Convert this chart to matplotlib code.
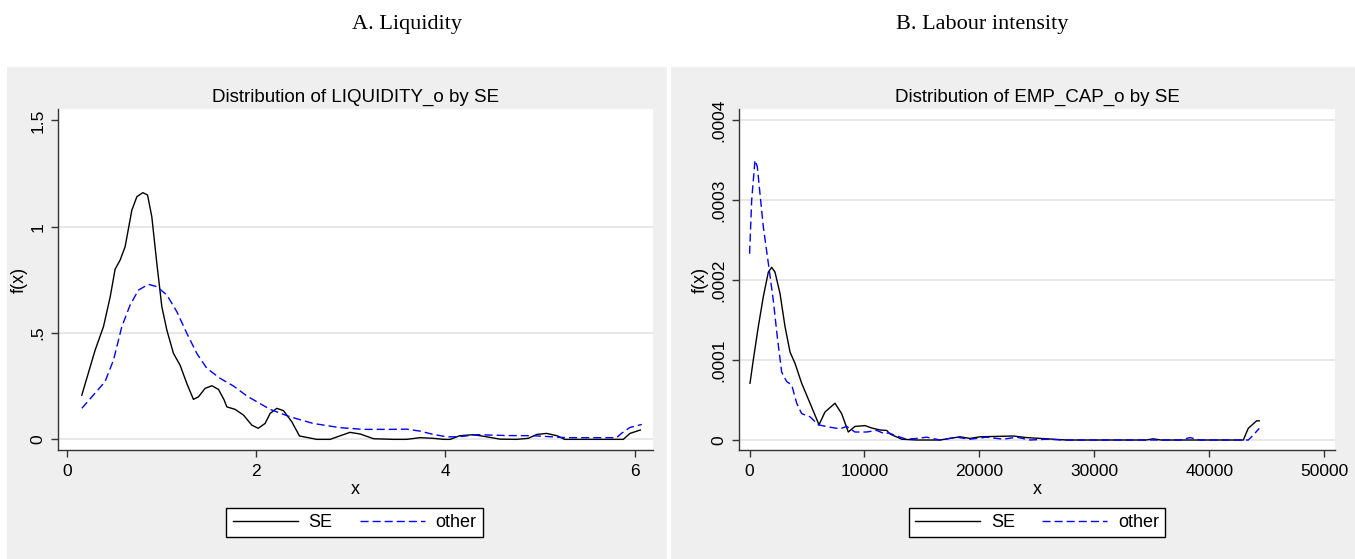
import matplotlib
matplotlib.use("Agg")
import matplotlib.pyplot as plt
from matplotlib.patches import Rectangle
from matplotlib.lines import Line2D

# ---- data -------------------------------------------------------------
panel_titles = ["A. Liquidity", "B. Labour intensity"]
plot_titles = ["Distribution of LIQUIDITY_o by SE", "Distribution of EMP_CAP_o by SE"]
series_names = ["SE", "other"]

# Panel A: kernel density of liquidity
liq_se_x = [0.155, 0.296, 0.384, 0.455, 0.507, 0.56, 0.613, 0.684, 0.737, 0.80, 0.85,
            0.895, 0.948, 1.001, 1.054, 1.124, 1.194, 1.265, 1.335, 1.388, 1.459, 1.53,
            1.60, 1.66, 1.688, 1.776, 1.865, 1.952, 2.02, 2.093, 2.146, 2.217, 2.287,
            2.375, 2.456, 2.64, 2.78, 2.99, 3.1, 3.24, 3.45, 3.59, 3.73, 3.87, 3.98,
            4.05, 4.15, 4.295, 4.437, 4.577, 4.75, 4.876, 4.965, 5.07, 5.18, 5.26,
            5.88, 5.95, 6.06]
liq_se_y = [0.208, 0.42, 0.53, 0.67, 0.80, 0.843, 0.906, 1.078, 1.141, 1.16, 1.149,
            1.047, 0.828, 0.624, 0.514, 0.404, 0.349, 0.263, 0.188, 0.20, 0.24, 0.252,
            0.235, 0.185, 0.153, 0.141, 0.114, 0.067, 0.052, 0.075, 0.122, 0.146, 0.135,
            0.083, 0.016, 0.0, 0.0, 0.033, 0.025, 0.003, 0.0, 0.0, 0.008, 0.005, 0.0,
            0.0, 0.017, 0.022, 0.012, 0.001, 0.0, 0.005, 0.023, 0.028, 0.017, 0.0,
            0.0, 0.028, 0.044]
liq_other_x = [0.155, 0.40, 0.49, 0.578, 0.666, 0.754, 0.86, 0.948, 1.054, 1.16, 1.265,
               1.371, 1.477, 1.617, 1.758, 1.90, 2.005, 2.146, 2.357, 2.60, 2.886, 3.13,
               3.41, 3.59, 3.73, 3.855, 4.01, 4.14, 4.33, 4.65, 4.93, 5.28, 5.81, 5.86,
               5.95, 6.075]
liq_other_y = [0.146, 0.271, 0.373, 0.53, 0.632, 0.702, 0.729, 0.718, 0.679, 0.60, 0.499,
               0.404, 0.334, 0.287, 0.251, 0.204, 0.177, 0.141, 0.106, 0.075, 0.055, 0.047,
               0.047, 0.048, 0.039, 0.025, 0.012, 0.012, 0.022, 0.018, 0.017, 0.008, 0.008,
               0.028, 0.056, 0.07]

# Panel B: kernel density of employment per unit of capital (density in units of 1e-4)
emp_se_x = [35, 320, 760, 1190, 1630, 1920, 2210, 2650, 3080, 3520, 3950, 4530, 5260,
            6040, 6560, 7430, 8010, 8590, 9170, 10040, 10630, 11350, 11930, 12220, 13240,
            14540, 16570, 18310, 19180, 20050, 22950, 24120, 25860, 27600, 34500, 35140,
            35800, 42970, 43400, 44130, 44360]
emp_se_y = [0.71, 1.0, 1.42, 1.79, 2.1, 2.16, 2.1, 1.83, 1.42, 1.10, 0.96, 0.71, 0.46,
            0.19, 0.35, 0.46, 0.33, 0.10, 0.17, 0.18, 0.15, 0.125, 0.12, 0.075, 0.01,
            0.0, 0.0, 0.04, 0.02, 0.04, 0.05, 0.03, 0.015, 0.0, 0.0, 0.015,
            0.0, 0.0, 0.146, 0.24, 0.24]
emp_other_x = [0, 180, 470, 670, 905, 1190, 1630, 2060, 2410, 2790, 3230, 3660, 4100,
               4530, 5260, 5980, 7000, 7870, 8450, 9170, 10190, 11060, 11790, 12080,
               12800, 13670, 14540, 15410, 16570, 18020, 19180, 20630, 22080, 23240,
               24410, 25860, 27310, 37500, 38330, 39200, 43400, 43830, 44360]
emp_other_y = [2.33, 3.0, 3.5, 3.42, 3.08, 2.67, 2.21, 1.75, 1.29, 0.85, 0.73, 0.69, 0.46,
               0.33, 0.29, 0.19, 0.16, 0.14, 0.17, 0.10, 0.10, 0.12, 0.075, 0.09,
               0.05, 0.01, 0.02, 0.035, 0.0, 0.035, 0.01, 0.035, 0.01, 0.035,
               0.0, 0.01, 0.0, 0.0, 0.03, 0.0, 0.0, 0.06, 0.146]

liq_xticks = [0, 2, 4, 6]
liq_yticks = [0, 0.5, 1, 1.5]
liq_yticklabels = ["0", ".5", "1", "1.5"]
emp_xticks = [0, 10000, 20000, 30000, 40000, 50000]
emp_yticks = [0, 0.0001, 0.0002, 0.0003, 0.0004]
emp_yticklabels = ["0", ".0001", ".0002", ".0003", ".0004"]

# ---- styling ----------------------------------------------------------
plt.rcParams["font.family"] = ["Liberation Sans", "DejaVu Sans"]
plt.rcParams["lines.scale_dashes"] = False

W, H = 1355, 559
fig = plt.figure(figsize=(W / 100, H / 100), dpi=100, facecolor="white")

PANEL_GRAY = "#efefef"
AXIS_COL = "#333333"
GRID_COL = "#e6e6e6"
DASH = (0, (5.8, 2.9))


def fx(px):
    return px / W


def fy(py):
    return 1 - py / H


# grey graph regions
for x0, x1 in [(7, 667), (671, 1355)]:
    fig.add_artist(Rectangle((fx(x0), 0), fx(x1 - x0), fy(67), transform=fig.transFigure,
                             facecolor=PANEL_GRAY, edgecolor="none", zorder=0))

# panel headings
fig.text(fx(407), fy(25), panel_titles[0], family="Liberation Serif", fontsize=16,
         ha="center", va="center")
fig.text(fx(982), fy(25), panel_titles[1], family="Liberation Serif", fontsize=16,
         ha="center", va="center")


def make_axes(left, right, top, bottom):
    ax = fig.add_axes([fx(left), fy(bottom), fx(right - left), (bottom - top) / H])
    ax.set_facecolor("white")
    for s in ("top", "right"):
        ax.spines[s].set_visible(False)
    for s in ("left", "bottom"):
        ax.spines[s].set_color(AXIS_COL)
        ax.spines[s].set_linewidth(1.0)
    ax.tick_params(direction="out", length=5, width=1, color=AXIS_COL,
                   labelsize=12.5, labelcolor="black")
    ax.tick_params(axis="x", pad=5)
    ax.tick_params(axis="y", pad=4, labelrotation=90)
    return ax


def finish(ax, title, yticks, ylabels, xticks, grid_ticks):
    ax.set_yticks(yticks)
    ax.set_yticklabels(ylabels)
    for lab in ax.get_yticklabels():
        lab.set_va("center")
    ax.set_xticks(xticks)
    ax.set_xticklabels([str(t) for t in xticks])
    for g in grid_ticks:
        ax.axhline(g, color=GRID_COL, lw=1.3, zorder=0.5)
    ax.text(0.5, 1.035, title, transform=ax.transAxes, ha="center", va="center",
            fontsize=13.5)
    ax.text(0.5, -0.117, "x", transform=ax.transAxes, ha="center", va="center",
            fontsize=13)


# ---- panel A ----------------------------------------------------------
axA = make_axes(57.7, 652.6, 109.3, 450)
axA.plot(liq_se_x, liq_se_y, color="black", lw=1.0, zorder=3)
axA.plot(liq_other_x, liq_other_y, color="blue", lw=1.0, linestyle=DASH, zorder=3)
axA.set_xlim(-0.10, 6.19)
axA.set_ylim(-0.05, 1.552)
finish(axA, plot_titles[0], liq_yticks, liq_yticklabels, liq_xticks, [0, 0.5, 1])
axA.text(-0.065, 0.5, "f(x)", transform=axA.transAxes, rotation=90, ha="center",
         va="center", fontsize=13)

# ---- panel B ----------------------------------------------------------
axB = make_axes(739.1, 1335, 109, 450)
axB.plot(emp_se_x, [v * 1e-4 for v in emp_se_y], color="black", lw=1.0, zorder=3)
axB.plot(emp_other_x, [v * 1e-4 for v in emp_other_y], color="blue", lw=1.0,
         linestyle=DASH, zorder=3)
axB.set_xlim(-914, 50950)
axB.set_ylim(-0.0000125, 0.000414)
finish(axB, plot_titles[1], emp_yticks, emp_yticklabels, emp_xticks, emp_yticks)
axB.text(-0.0646, 0.5, "f(x)", transform=axB.transAxes, rotation=90, ha="center",
         va="center", fontsize=13)

# ---- legends ----------------------------------------------------------
handles = [Line2D([], [], color="black", lw=1.0),
           Line2D([], [], color="blue", lw=1.0, linestyle=DASH)]
for ax, cx in [(axA, 354.5), (axB, 1037)]:
    leg = ax.legend(handles, series_names, loc="center", bbox_to_anchor=(fx(cx), fy(522.5)),
                    bbox_transform=fig.transFigure, ncol=2, frameon=True, fancybox=False,
                    shadow=False, framealpha=1, edgecolor="black", facecolor="white",
                    fontsize=13, handlelength=3.6, handletextpad=0.6, columnspacing=1.5,
                    borderpad=0.35, borderaxespad=0)
    leg.get_frame().set_linewidth(1.0)

fig.savefig("out.png", dpi=100, facecolor="white")
